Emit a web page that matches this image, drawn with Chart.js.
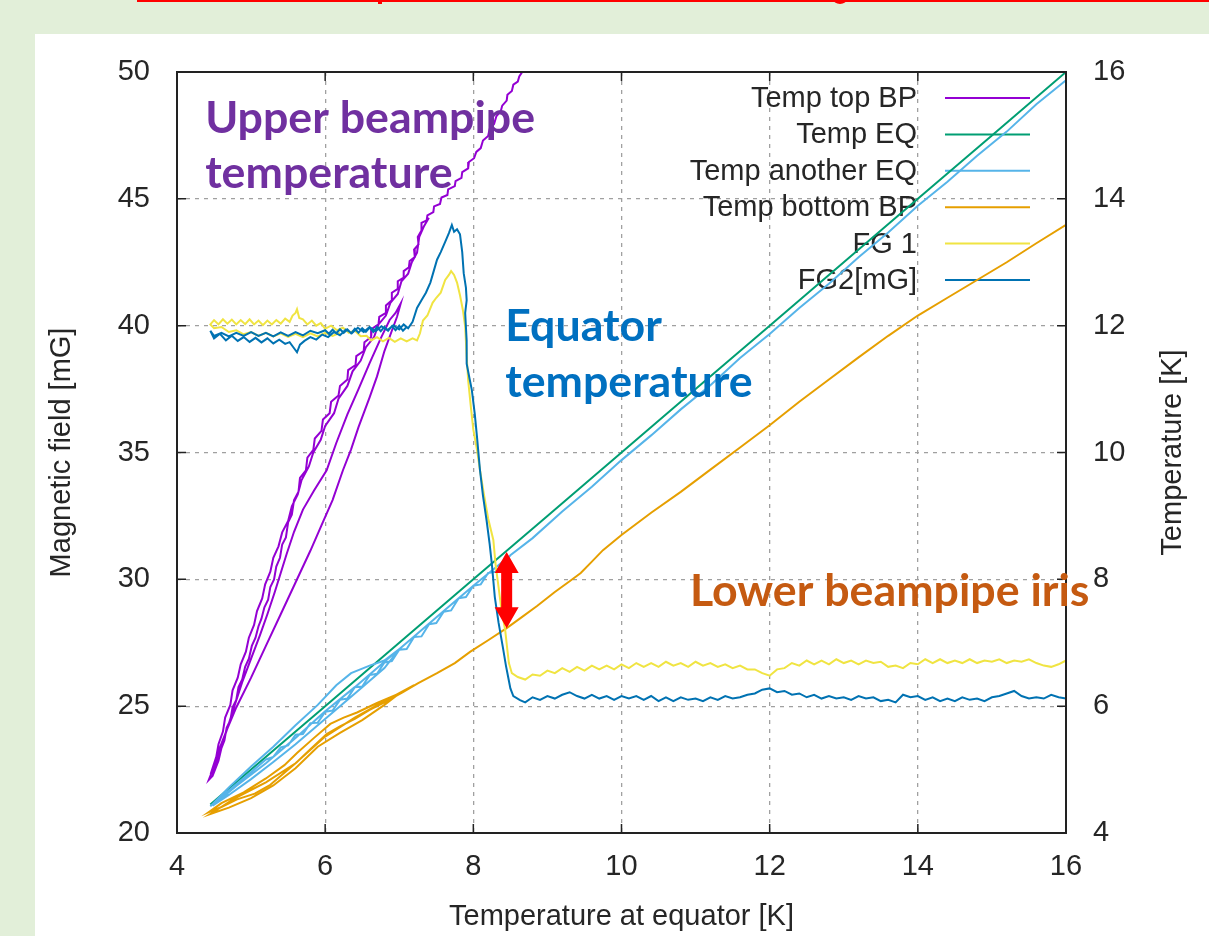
<!DOCTYPE html>
<html>
<head>
<meta charset="utf-8">
<script src="https://cdn.jsdelivr.net/npm/chart.js@4.4.1/dist/chart.umd.min.js"></script>
<style>
    body { margin: 0; width: 1209px; height: 936px; background: #e2efd9; overflow: hidden; position: relative; }
    #panel { position: absolute; left: 35px; top: 34px; width: 1174px; height: 902px; background: #ffffff; }
    #redline { position: absolute; left: 137px; top: 0; width: 1072px; height: 2px; background: #ff0000; }
    #blob1 { position: absolute; left: 378px; top: 0; width: 4px; height: 4px; background: #ff0000; }
    #blob2 { position: absolute; left: 833px; top: -6px; width: 14px; height: 10px; border-radius: 50%; background: #ff0000; }
    #chart { position: absolute; left: 0; top: 0; }
</style>
</head>
<body>
<div id="panel"></div>
<div id="redline"></div>
<div id="blob1"></div>
<div id="blob2"></div>
<canvas id="chart" width="1209" height="936"></canvas>
<script>
// Axis ranges and ticks
const xTicks = [4, 6, 8, 10, 12, 14, 16];
const fieldTicks = [20, 25, 30, 35, 40, 45, 50];
const tempTicks = [4, 6, 8, 10, 12, 14, 16];

// Series names and colours (gnuplot defaults)
const seriesNames = ['Temp top BP', 'Temp EQ', 'Temp another EQ', 'Temp bottom BP', 'FG 1', 'FG2[mG]'];
const seriesColors = ['#9400d3', '#009e73', '#56b4e9', '#e69f00', '#f0e442', '#0072b2'];

// [temperature at equator (K), temperature (K)] - right axis
const tempTopBP = [
    // cooling, hot side strand
    [8.66,16.0],[8.62,15.93],[8.6,15.85],[8.54,15.8],[8.52,15.7],[8.46,15.64],[8.45,15.55],[8.39,15.47],[8.37,15.38],
    [8.31,15.3],[8.28,15.18],[8.22,15.1],[8.2,14.99],[8.13,14.92],[8.1,14.8],[8.04,14.74],[8.01,14.64],[7.94,14.58],
    [7.93,14.48],[7.85,14.42],[7.84,14.33],[7.76,14.28],[7.75,14.2],[7.66,14.15],[7.65,14.06],[7.57,14.02],[7.55,13.92],
    [7.47,13.88],[7.46,13.79],[7.38,13.74],[7.37,13.66],[7.3,13.62],[7.3,13.5],[7.25,13.4],[7.26,13.28],[7.2,13.2],
    [7.21,13.08],[7.14,13.02],[7.13,12.92],[7.06,12.86],[7.06,12.76],[6.98,12.7],[6.98,12.58],[6.9,12.52],[6.9,12.4],
    [6.82,12.32],[6.82,12.2],[6.73,12.14],[6.72,12.02],[6.63,11.95],[6.62,11.82],[6.53,11.74],[6.52,11.6],[6.42,11.52],
    [6.41,11.38],[6.31,11.3],[6.3,11.15],[6.2,11.05],[6.18,10.9],[6.08,10.8],[6.06,10.62],[5.97,10.52],[5.95,10.34],
    [5.86,10.22],[5.84,10.04],[5.76,9.92],[5.74,9.72],[5.66,9.6],[5.64,9.38],[5.58,9.25],[5.55,9.02],[5.5,8.9],
    [5.47,8.66],[5.42,8.55],[5.39,8.34],[5.34,8.2],[5.31,8.0],[5.26,7.88],[5.23,7.68],[5.18,7.56],[5.14,7.38],
    [5.1,7.26],[5.06,7.08],[5.01,6.95],[4.97,6.75],[4.92,6.62],[4.88,6.42],[4.83,6.3],[4.8,6.1],[4.75,5.98],
    [4.72,5.78],[4.67,5.66],[4.64,5.46],[4.6,5.34],[4.56,5.14],[4.52,5.02],[4.48,4.9],[4.43,4.84],
    // warming, outer strand
    [4.5,5.05],[4.58,5.35],[4.67,5.62],[4.8,5.98],[5.0,6.45],[5.2,6.95],[5.4,7.45],[5.6,7.95],[5.8,8.45],[5.95,8.85],
    [6.1,9.25],[6.24,9.72],[6.35,10.05],[6.45,10.4],[6.6,10.87],[6.7,11.2],[6.8,11.6],[6.9,11.92],[6.97,12.14],[7.02,12.35],
    // cooling, middle strand
    [6.95,12.2],[6.87,12.09],[6.75,11.8],[6.6,11.41],[6.45,11.0],[6.3,10.6],[6.15,10.15],[6.02,9.72],[5.85,9.4],
    [5.7,9.1],[5.58,8.75],[5.48,8.4],[5.4,8.1],[5.32,7.8],[5.22,7.45],[5.12,7.12],[5.0,6.75],[4.88,6.38],[4.78,6.02],
    [4.68,5.65],[4.58,5.3],[4.48,4.95],
    // warming again along the hot side
    [4.46,4.95],[4.53,5.2],[4.56,5.4],[4.62,5.6],[4.65,5.82],[4.72,6.02],[4.75,6.25],[4.82,6.45],[4.86,6.66],
    [4.93,6.86],[4.97,7.08],[5.04,7.28],[5.08,7.5],[5.15,7.7],[5.19,7.92],[5.26,8.12],[5.3,8.34],[5.37,8.52],
    [5.42,8.74],[5.5,8.92],[5.55,9.15],[5.63,9.34],[5.68,9.56],[5.78,9.78],[5.84,10.0],[5.94,10.2],[6.0,10.42],
    [6.12,10.62],[6.18,10.85],[6.3,11.05],[6.37,11.28],[6.48,11.45],[6.55,11.66],[6.66,11.82],[6.72,12.02],
    [6.82,12.16],[6.88,12.36],[6.98,12.5],[7.03,12.7],[7.12,12.82],[7.17,13.0],[7.24,13.15],[7.27,13.4],
    [7.33,13.56],[7.4,13.7]
];
const tempEQ = [
    [4.45,4.45],[5.0,5.0],[6.0,6.0],[7.0,7.0],[8.0,8.0],[9.0,9.0],[10.0,10.0],[11.0,11.0],[12.0,12.0],
    [13.0,13.0],[14.0,14.0],[15.0,15.0],[16.0,16.0]
];
const tempAnotherEQ = [
    [16.0,15.87],[15.6,15.49],[15.2,15.06],[14.8,14.68],[14.4,14.27],[14.0,13.89],[13.6,13.47],[13.2,13.08],
    [12.8,12.66],[12.4,12.28],[12.0,11.87],[11.6,11.49],[11.2,11.06],[10.8,10.68],[10.4,10.27],[10.0,9.88],
    [9.6,9.46],[9.2,9.07],[8.8,8.65],[8.5,8.38],[8.3,8.12],[8.2,8.1],[8.1,7.92],[8.0,7.9],[7.9,7.72],[7.8,7.7],
    [7.7,7.51],[7.6,7.49],[7.5,7.31],[7.4,7.29],[7.3,7.1],[7.2,7.09],[7.1,6.9],[7.0,6.89],[6.9,6.71],[6.8,6.69],
    [6.7,6.51],[6.6,6.49],[6.5,6.31],[6.4,6.3],[6.3,6.12],[6.2,6.1],[6.1,5.93],[6.0,5.91],[5.9,5.74],[5.8,5.73],
    [5.7,5.56],[5.6,5.55],[5.5,5.38],[5.4,5.35],[5.3,5.2],[5.2,5.16],[5.0,4.96],[4.8,4.77],[4.6,4.57],[4.45,4.42],
    [4.7,4.72],[5.0,5.05],[5.3,5.36],[5.6,5.7],[5.9,6.02],[6.15,6.33],[6.35,6.52],[6.6,6.64],[6.8,6.72],[7.0,6.9],
    [6.8,6.6],[6.5,6.3],[6.2,6.0],[5.9,5.7],[5.6,5.4],[5.3,5.12],[5.0,4.85],[4.7,4.6],[4.48,4.43],
    [4.8,4.74],[5.2,5.1],[5.6,5.5],[6.0,5.92],[6.4,6.3],[6.8,6.7],[7.2,7.1],[7.6,7.5],[8.0,7.9],[8.4,8.28]
];
const tempBottomBP = [
    [16.0,13.59],[15.6,13.3],[15.2,13.0],[14.8,12.72],[14.4,12.44],[14.0,12.16],[13.6,11.84],[13.2,11.5],
    [12.8,11.15],[12.4,10.8],[12.0,10.43],[11.6,10.08],[11.2,9.73],[10.8,9.38],[10.4,9.05],[10.0,8.7],
    [9.75,8.46],[9.6,8.28],[9.45,8.1],[9.3,7.97],[9.1,7.8],[8.86,7.58],[8.65,7.4],[8.45,7.23],[8.2,7.04],
    [7.96,6.86],[7.75,6.68],[7.51,6.52],[7.25,6.36],[7.05,6.22],[6.8,6.06],[6.6,5.94],[6.4,5.8],[6.2,5.68],
    [6.02,5.56],[5.8,5.32],[5.62,5.12],[5.45,4.95],[5.26,4.76],[5.05,4.62],[4.81,4.53],[4.6,4.41],[4.43,4.33],
    [4.6,4.47],[4.9,4.64],[5.2,4.86],[5.45,5.07],[5.62,5.26],[5.85,5.5],[6.07,5.72],[6.25,5.82],[6.43,5.9],
    [6.7,6.05],[7.0,6.2],
    [6.8,6.02],[6.5,5.78],[6.2,5.58],[5.9,5.36],[5.6,5.02],[5.3,4.75],[5.0,4.55],[4.7,4.4],[4.45,4.3],
    [4.8,4.56],[5.2,4.8],[5.6,5.1],[6.0,5.52],[6.4,5.82],[6.8,6.08],[7.2,6.33]
];

// [temperature at equator (K), magnetic field (mG)] - left axis
const fg1 = [
    [6.2,39.72],[6.1,39.6],[6.0,39.72],[5.9,39.58],[5.8,39.7],[5.7,39.55],[5.6,39.68],[5.5,39.56],[5.4,39.7],
    [5.3,39.58],[5.2,39.72],[5.1,39.6],[5.0,39.75],[4.9,39.66],[4.8,39.82],[4.7,39.75],[4.6,39.95],[4.5,39.9],[4.45,40.05],
    [4.5,40.22],[4.56,40.05],[4.62,40.25],[4.68,40.08],[4.74,40.24],[4.8,40.05],[4.86,40.22],[4.92,40.06],[4.98,40.25],
    [5.04,40.05],[5.1,40.2],[5.16,40.02],[5.22,40.2],[5.28,40.05],[5.34,40.22],[5.4,40.08],[5.46,40.28],[5.52,40.15],
    [5.56,40.4],[5.6,40.5],[5.62,40.65],[5.65,40.3],[5.7,40.25],[5.76,40.05],[5.82,40.2],[5.88,40.0],[5.94,40.1],
    [6.0,39.88],[6.08,40.0],[6.16,39.82],[6.24,39.92],[6.32,39.72],[6.4,39.8],[6.48,39.58],[6.56,39.6],[6.62,39.42],
    [6.7,39.55],[6.78,39.38],[6.86,39.52],[6.94,39.36],[7.02,39.5],[7.1,39.38],[7.18,39.5],[7.24,39.42],[7.28,39.7],
    [7.32,40.2],[7.38,40.4],[7.45,40.9],[7.5,41.1],[7.56,41.3],[7.62,41.8],[7.67,42.0],[7.7,42.15],
    [7.74,42.0],[7.78,41.7],[7.82,41.2],[7.86,40.6],[7.89,39.95],[7.91,38.8],[7.93,37.85],[7.97,36.7],[8.0,35.9],
    [8.05,35.1],[8.09,34.3],[8.14,33.4],[8.2,32.4],[8.27,31.55],[8.3,30.6],[8.34,29.7],[8.38,28.8],[8.43,28.0],
    [8.46,27.2],[8.48,26.7],[8.52,26.3],
    [8.6,26.15],[8.7,26.05],[8.8,26.25],[8.9,26.2],[9.0,26.4],[9.1,26.3],[9.2,26.5],[9.3,26.35],[9.4,26.55],
    [9.5,26.4],[9.6,26.6],[9.7,26.45],[9.8,26.6],[9.9,26.45],[10.0,26.65],[10.1,26.5],[10.2,26.7],[10.3,26.55],
    [10.4,26.7],[10.5,26.55],[10.6,26.75],[10.7,26.6],[10.8,26.7],[10.9,26.55],[11.0,26.75],[11.1,26.6],[11.2,26.7],
    [11.3,26.55],[11.4,26.65],[11.5,26.5],[11.6,26.6],[11.7,26.45],[11.8,26.45],[11.9,26.3],[12.0,26.2],[12.1,26.45],
    [12.2,26.5],[12.3,26.7],[12.4,26.6],[12.5,26.8],[12.6,26.65],[12.7,26.8],[12.8,26.65],[12.9,26.85],[13.0,26.7],
    [13.1,26.8],[13.2,26.65],[13.3,26.8],[13.4,26.7],[13.5,26.75],[13.6,26.55],[13.7,26.6],[13.8,26.5],[13.9,26.7],
    [14.0,26.65],[14.1,26.85],[14.2,26.7],[14.3,26.85],[14.4,26.7],[14.5,26.8],[14.6,26.7],[14.7,26.85],[14.8,26.7],
    [14.9,26.8],[15.0,26.75],[15.1,26.85],[15.2,26.7],[15.3,26.8],[15.4,26.75],[15.5,26.85],[15.6,26.7],[15.7,26.6],
    [15.8,26.55],[15.9,26.65],[16.0,26.8]
];
const fg2 = [
    [7.1,39.95],[7.05,39.8],[7.0,40.0],[6.95,39.82],[6.9,39.98],[6.85,39.8],[6.8,39.95],[6.75,39.78],[6.7,39.95],
    [6.65,39.75],[6.6,39.92],[6.55,39.76],[6.5,39.9],[6.45,39.72],[6.4,39.88],[6.35,39.7],[6.3,39.85],[6.25,39.72],
    [6.2,39.86],[6.15,39.7],[6.1,39.84],[6.05,39.68],[6.0,39.82],[5.9,39.7],[5.8,39.8],[5.7,39.62],[5.6,39.75],
    [5.5,39.6],[5.4,39.74],[5.3,39.58],[5.2,39.72],[5.1,39.6],[5.0,39.75],[4.9,39.6],[4.8,39.72],[4.7,39.58],
    [4.6,39.72],[4.5,39.6],[4.45,39.8],
    [4.5,39.5],[4.58,39.68],[4.66,39.42],[4.74,39.6],[4.82,39.4],[4.9,39.55],[4.98,39.36],[5.06,39.52],[5.14,39.34],
    [5.22,39.5],[5.3,39.3],[5.38,39.45],[5.46,39.28],[5.52,39.35],[5.57,39.15],[5.62,38.95],[5.66,39.25],[5.72,39.4],
    [5.8,39.55],[5.88,39.45],[5.96,39.65],[6.04,39.55],[6.12,39.75],[6.2,39.62],[6.28,39.85],[6.36,39.7],[6.44,39.92],
    [6.52,39.75],[6.6,39.95],[6.68,39.78],[6.76,39.98],[6.84,39.82],[6.92,40.02],[7.0,39.85],[7.06,40.05],[7.12,39.9],
    [7.18,40.15],[7.24,40.7],[7.3,41.0],[7.36,41.3],[7.42,41.7],[7.47,42.2],[7.51,42.6],[7.56,42.9],[7.62,43.3],
    [7.67,43.65],[7.71,43.97],[7.74,43.7],[7.78,43.8],[7.82,43.6],[7.85,42.9],[7.87,42.07],[7.9,41.5],[7.91,41.0],
    [7.89,40.5],[7.91,39.4],[7.91,38.5],[7.95,37.9],[7.98,37.46],[8.02,36.5],[8.05,35.6],[8.09,34.3],[8.13,33.3],
    [8.18,32.3],[8.22,31.4],[8.25,30.6],[8.29,29.3],[8.34,28.3],[8.4,27.3],[8.44,26.6],[8.47,26.15],[8.5,25.7],
    [8.54,25.4],[8.63,25.24],
    [8.7,25.15],[8.8,25.35],[8.9,25.25],[9.0,25.4],[9.1,25.3],[9.2,25.45],[9.3,25.55],[9.4,25.4],[9.5,25.3],
    [9.6,25.45],[9.7,25.3],[9.8,25.4],[9.9,25.25],[10.0,25.4],[10.1,25.3],[10.2,25.4],[10.3,25.25],[10.4,25.4],
    [10.5,25.2],[10.6,25.35],[10.7,25.2],[10.8,25.35],[10.9,25.25],[11.0,25.3],[11.1,25.2],[11.2,25.35],[11.3,25.25],
    [11.4,25.4],[11.5,25.3],[11.6,25.35],[11.7,25.45],[11.8,25.5],[11.9,25.65],[12.0,25.7],[12.1,25.55],[12.2,25.6],
    [12.3,25.45],[12.4,25.5],[12.5,25.35],[12.6,25.45],[12.7,25.3],[12.8,25.4],[12.9,25.3],[13.0,25.35],[13.1,25.25],
    [13.2,25.4],[13.3,25.3],[13.4,25.35],[13.5,25.2],[13.6,25.25],[13.7,25.15],[13.8,25.45],[13.9,25.35],[14.0,25.4],
    [14.1,25.25],[14.2,25.35],[14.3,25.2],[14.4,25.3],[14.5,25.2],[14.6,25.35],[14.7,25.25],[14.8,25.3],[14.9,25.2],
    [15.0,25.35],[15.1,25.4],[15.2,25.5],[15.3,25.6],[15.4,25.4],[15.5,25.3],[15.6,25.35],[15.7,25.3],[15.8,25.45],
    [15.9,25.35],[16.0,25.3]
];

// Text notes pasted over the plot: [text, x (K), field (mG), colour]
const notes = [
    ['Upper beampipe', 4.38, 47.6, '#7030a0'],
    ['temperature', 4.38, 45.43, '#7030a0'],
    ['Equator', 8.43, 39.39, '#0070c0'],
    ['temperature', 8.43, 37.19, '#0070c0'],
    ['Lower beampipe iris', 10.925, 28.95, '#c55a11']
];
// Red double arrow: x (K), from / to temperature (K) on the right axis
const arrowX = 8.45;
const arrowTemps = [8.43, 7.23];

const tickFont = { family: 'Liberation Sans, Arial, sans-serif', size: 29 };
const textColor = '#262626';

function toPoints(arr) {
    return arr.map(p => ({ x: p[0], y: p[1] }));
}

const seriesData = [tempTopBP, tempEQ, tempAnotherEQ, tempBottomBP, fg1, fg2];
const seriesAxis = ['y2', 'y2', 'y2', 'y2', 'y', 'y'];

const datasets = seriesData.map((d, i) => ({
    label: seriesNames[i],
    data: toPoints(d),
    yAxisID: seriesAxis[i],
    borderColor: seriesColors[i],
    backgroundColor: seriesColors[i],
    borderWidth: 2,
    pointRadius: 0,
    showLine: true,
    tension: 0,
    order: seriesData.length - i
}));

// gnuplot style key: right aligned text, sample line on the right
const keyPlugin = {
    id: 'key',
    beforeDatasetsDraw(chart) {
        const ctx = chart.ctx;
        const ca = chart.chartArea;
        ctx.save();
        ctx.font = tickFont.size + 'px ' + tickFont.family;
        ctx.textAlign = 'right';
        ctx.textBaseline = 'middle';
        chart.data.datasets.forEach((ds, i) => {
            const y = ca.top + 26 + i * 36.4;
            ctx.fillStyle = textColor;
            ctx.fillText(ds.label, ca.right - 149, y + 1);
            ctx.strokeStyle = ds.borderColor;
            ctx.lineWidth = 2;
            ctx.beginPath();
            ctx.moveTo(ca.right - 121, y);
            ctx.lineTo(ca.right - 36, y);
            ctx.stroke();
        });
        ctx.restore();
    }
};

// Frame, inward tick marks, right axis title, notes and arrow
const framePlugin = {
    id: 'frame',
    afterDatasetsDraw(chart) {
        const ctx = chart.ctx;
        const ca = chart.chartArea;
        const sx = chart.scales.x, sy = chart.scales.y, sy2 = chart.scales.y2;
        const tl = 9;
        ctx.save();
        ctx.strokeStyle = '#222';
        ctx.lineWidth = 1.5;
        ctx.beginPath();
        xTicks.forEach(v => {
            const px = sx.getPixelForValue(v);
            ctx.moveTo(px, ca.bottom); ctx.lineTo(px, ca.bottom - tl);
            ctx.moveTo(px, ca.top); ctx.lineTo(px, ca.top + tl);
        });
        fieldTicks.forEach(v => {
            const py = sy.getPixelForValue(v);
            ctx.moveTo(ca.left, py); ctx.lineTo(ca.left + tl, py);
        });
        tempTicks.forEach(v => {
            const py = sy2.getPixelForValue(v);
            ctx.moveTo(ca.right, py); ctx.lineTo(ca.right - tl, py);
        });
        ctx.stroke();
        ctx.lineWidth = 2;
        ctx.strokeRect(ca.left, ca.top, ca.right - ca.left, ca.bottom - ca.top);

        // right axis title reads bottom to top like the left one
        ctx.fillStyle = textColor;
        ctx.font = tickFont.size + 'px ' + tickFont.family;
        ctx.textAlign = 'center';
        ctx.textBaseline = 'middle';
        ctx.translate(1173, (ca.top + ca.bottom) / 2);
        ctx.rotate(-Math.PI / 2);
        ctx.fillText('Temperature [K]', 0, 0);
        ctx.restore();
    },
    afterDraw(chart) {
        const ctx = chart.ctx;
        const sx = chart.scales.x, sy = chart.scales.y, sy2 = chart.scales.y2;
        ctx.save();
        ctx.textAlign = 'left';
        ctx.textBaseline = 'alphabetic';
        ctx.font = 'bold 40px Lato, sans-serif';
        const size = 40 * 330 / ctx.measureText('Upper beampipe').width;
        ctx.font = 'bold ' + size.toFixed(1) + 'px Lato, sans-serif';
        notes.forEach(n => {
            ctx.fillStyle = n[3];
            ctx.fillText(n[0], sx.getPixelForValue(n[1]), sy.getPixelForValue(n[2]));
        });

        // double headed arrow
        const ax = sx.getPixelForValue(arrowX);
        const top = sy2.getPixelForValue(arrowTemps[0]);
        const bot = sy2.getPixelForValue(arrowTemps[1]);
        const head = 21, hw = 12, sw = 5.5;
        ctx.fillStyle = '#ff0000';
        ctx.beginPath();
        ctx.moveTo(ax, top);
        ctx.lineTo(ax + hw, top + head);
        ctx.lineTo(ax + sw, top + head);
        ctx.lineTo(ax + sw, bot - head);
        ctx.lineTo(ax + hw, bot - head);
        ctx.lineTo(ax, bot);
        ctx.lineTo(ax - hw, bot - head);
        ctx.lineTo(ax - sw, bot - head);
        ctx.lineTo(ax - sw, top + head);
        ctx.lineTo(ax - hw, top + head);
        ctx.closePath();
        ctx.fill();
        ctx.restore();
    }
};

const gridDash = [4, 5];

new Chart(document.getElementById('chart').getContext('2d'), {
    type: 'scatter',
    data: { datasets: datasets },
    options: {
        responsive: false,
        animation: false,
        devicePixelRatio: 1,
        layout: { padding: { top: 72, left: 0, right: 0, bottom: 0 } },
        plugins: { legend: { display: false }, tooltip: { enabled: false } },
        scales: {
            x: {
                type: 'linear',
                min: 4, max: 16,
                afterBuildTicks: s => { s.ticks = xTicks.map(v => ({ value: v })); },
                afterFit: s => { s.height = 103; },
                ticks: { font: tickFont, color: textColor, padding: 17, maxRotation: 0 },
                grid: { color: '#a0a0a0', lineWidth: 1.3, drawTicks: false },
                border: { display: false, dash: gridDash },
                title: {
                    display: true, text: 'Temperature at equator [K]', color: textColor,
                    font: tickFont, padding: { top: 0, bottom: 2 }
                }
            },
            y: {
                type: 'linear',
                position: 'left',
                min: 20, max: 50,
                afterBuildTicks: s => { s.ticks = fieldTicks.map(v => ({ value: v })); },
                afterFit: s => { s.width = 177; },
                ticks: { font: tickFont, color: textColor, padding: 27 },
                grid: { color: '#a0a0a0', lineWidth: 1.3, drawTicks: false },
                border: { display: false, dash: gridDash },
                title: {
                    display: true, text: 'Magnetic field [mG]', color: textColor,
                    font: tickFont, padding: { top: 45, bottom: 0 }
                }
            },
            y2: {
                type: 'linear',
                position: 'right',
                min: 4, max: 16,
                afterBuildTicks: s => { s.ticks = tempTicks.map(v => ({ value: v })); },
                afterFit: s => { s.width = 143; },
                ticks: { font: tickFont, color: textColor, padding: 27 },
                grid: { drawOnChartArea: false, drawTicks: false },
                border: { display: false }
            }
        }
    },
    plugins: [keyPlugin, framePlugin]
});
</script>
</body>
</html>
